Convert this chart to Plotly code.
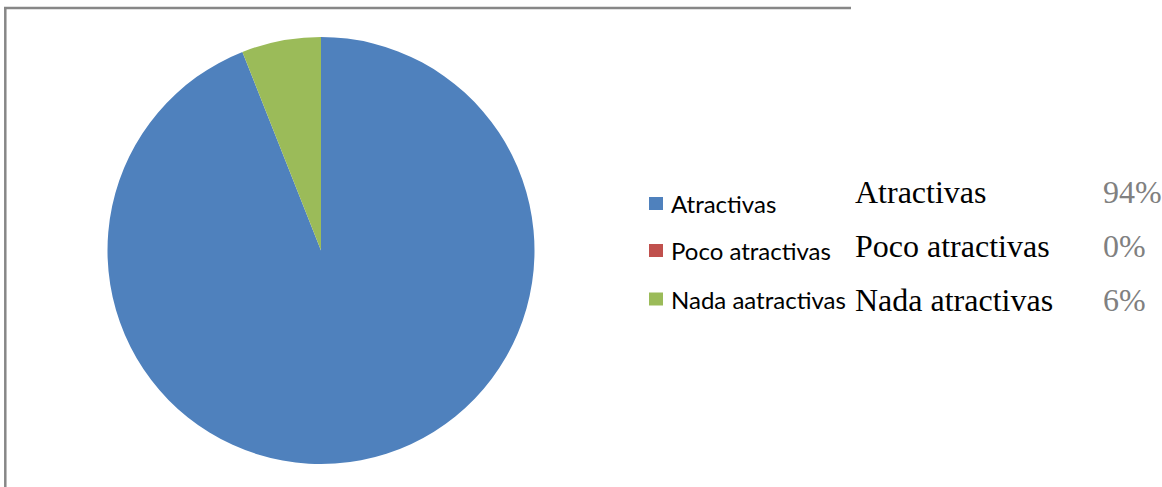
import plotly.graph_objects as go

W, H = 1162, 487

categories = ["Atractivas", "Poco atractivas", "Nada atractivas"]
legend_labels = ["Atractivas", "Poco atractivas", "Nada aatractivas"]
values = [94, 0, 6]
pct_labels = ["94%", "0%", "6%"]
colors = ["#4F81BD", "#C0504D", "#9BBB59"]

def px(x):
    return x / W

def py(y):
    return 1 - y / H

fig = go.Figure()
fig.add_trace(go.Pie(
    labels=categories,
    values=values,
    sort=False,
    direction="clockwise",
    rotation=0,
    marker=dict(colors=colors, line=dict(width=0)),
    textinfo="none",
    showlegend=False,
    domain=dict(x=[px(107), px(535)], y=[py(464), py(37)]),
))

shapes = [
    dict(type="line", xref="paper", yref="paper", x0=px(4), x1=px(851), y0=py(8), y1=py(8),
         line=dict(color="#878787", width=2.5)),
    dict(type="line", xref="paper", yref="paper", x0=px(5.3), x1=px(5.3), y0=py(7), y1=py(490),
         line=dict(color="#878787", width=2.5)),
]
annotations = []

leg_centers = [203.5, 250.5, 299]
for i, lab in enumerate(legend_labels):
    c = leg_centers[i]
    shapes.append(dict(type="rect", xref="paper", yref="paper",
                       x0=px(649), x1=px(663), y0=py(c + 6.5), y1=py(c - 6.5),
                       fillcolor=colors[i], line=dict(width=0)))
    annotations.append(dict(text=lab, xref="paper", yref="paper", x=px(669), y=py(c),
                            xanchor="left", yanchor="middle", showarrow=False,
                            font=dict(family="Lato", size=24, color="#000000")))

row_centers = [192, 246, 300]
for i, cat in enumerate(categories):
    annotations.append(dict(text=cat, xref="paper", yref="paper", x=px(853), y=py(row_centers[i]),
                            xanchor="left", yanchor="middle", showarrow=False,
                            font=dict(family="Liberation Serif", size=32, color="#000000")))
    annotations.append(dict(text=pct_labels[i], xref="paper", yref="paper", x=px(1101), y=py(row_centers[i]),
                            xanchor="left", yanchor="middle", showarrow=False,
                            font=dict(family="Liberation Serif", size=32, color="#808080")))

fig.update_layout(
    width=W, height=H,
    margin=dict(l=0, r=0, t=0, b=0),
    paper_bgcolor="white", plot_bgcolor="white",
    shapes=shapes, annotations=annotations,
)

fig.write_html("out.html",
               config={"displayModeBar": False},
               post_script="document.body.style.margin='0';document.body.style.padding='0';")
